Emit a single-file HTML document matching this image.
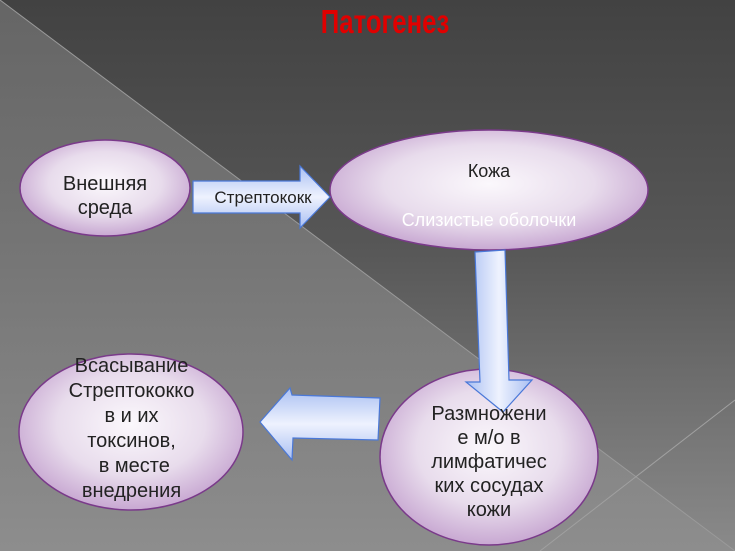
<!DOCTYPE html>
<html><head><meta charset="utf-8"><style>
html,body{margin:0;padding:0}
body{width:735px;height:551px;overflow:hidden;position:relative;font-family:"Liberation Sans","DejaVu Sans",sans-serif}
svg{position:absolute;left:0;top:0}
.t{position:absolute;text-align:center;color:#222;font-size:17px;line-height:23px}
</style></head><body>
<svg width="735" height="551" viewBox="0 0 735 551">
<defs>
<linearGradient id="bg" x1="0" y1="0" x2="0" y2="1">
<stop offset="0" stop-color="#424242"/><stop offset="0.45" stop-color="#575757"/><stop offset="1" stop-color="#8a8a8a"/></linearGradient>
<linearGradient id="tri" x1="0" y1="0" x2="0" y2="1">
<stop offset="0" stop-color="#6e6e6e"/><stop offset="1" stop-color="#8e8e8e"/></linearGradient>
<radialGradient id="el" cx="0.5" cy="0.45" r="0.55">
<stop offset="0" stop-color="#fbf8fc"/><stop offset="0.6" stop-color="#e8dcec"/><stop offset="1" stop-color="#c8a8d2"/></radialGradient>
<linearGradient id="ar" x1="0" y1="0" x2="1" y2="0">
<stop offset="0" stop-color="#a9bff2"/><stop offset="0.5" stop-color="#eef2fe"/><stop offset="1" stop-color="#a9bff2"/></linearGradient>
<linearGradient id="arv" x1="0" y1="0" x2="0" y2="1">
<stop offset="0" stop-color="#a9bff2"/><stop offset="0.5" stop-color="#eef2fe"/><stop offset="1" stop-color="#a9bff2"/></linearGradient>
</defs>
<rect width="735" height="551" fill="url(#bg)"/>
<polygon points="0,0 735,551 0,551" fill="url(#tri)" opacity="0.8"/>
<line x1="0" y1="0" x2="735" y2="551" stroke="#9a9a9a" stroke-width="1"/>
<line x1="735" y1="400" x2="540" y2="551" stroke="#a0a0a0" stroke-width="1"/>
<ellipse cx="105" cy="188" rx="85" ry="48" fill="url(#el)" stroke="#7a3a8a" stroke-width="1.5"/>
<ellipse cx="489" cy="190" rx="159" ry="60" fill="url(#el)" stroke="#7a3a8a" stroke-width="1.5"/>
<ellipse cx="131" cy="432" rx="112" ry="78" fill="url(#el)" stroke="#7a3a8a" stroke-width="1.5"/>
<ellipse cx="489" cy="457" rx="109" ry="88" fill="url(#el)" stroke="#7a3a8a" stroke-width="1.5"/>
<polygon points="193,181 300,181 300,166 330,197 300,228 300,213 193,213" fill="url(#arv)" stroke="#4a78d8" stroke-width="1.2"/>
<polygon points="475,252 505,250 509,380 532,380 503,412 466,382 480,382" fill="url(#ar)" stroke="#4a78d8" stroke-width="1.2"/>
<polygon points="380,398 378,440 293,438 292,460 260,422 290,388 292,395" fill="url(#arv)" stroke="#4a78d8" stroke-width="1.2"/>
</svg>
<div style="position:absolute;left:0;width:770px;top:3px;text-align:center;color:#e00000;font-weight:bold;font-size:33px;transform:scaleX(0.78);transform-origin:385px 0">Патогенез</div>
<div class="t" style="left:20px;width:170px;top:172px;font-size:20px;line-height:24px">Внешняя<br>среда</div>
<div class="t" style="left:193px;width:140px;top:186px;font-size:17px">Стрептококк</div>
<div class="t" style="left:330px;width:318px;top:160px;font-size:18px">Кожа</div>
<div class="t" style="left:330px;width:318px;top:209px;font-size:18px;color:#fff">Слизистые оболочки</div>
<div class="t" style="left:15px;width:233px;top:354px;font-size:20px;line-height:25px">Всасывание<br>Стрептококко<br>в и их<br>токсинов,<br>&nbsp;в месте<br>внедрения</div>
<div class="t" style="left:375px;width:228px;top:402px;font-size:20px;line-height:24px">Размножени<br>е м/о в<br>лимфатичес<br>ких сосудах<br>кожи</div>
</body></html>
